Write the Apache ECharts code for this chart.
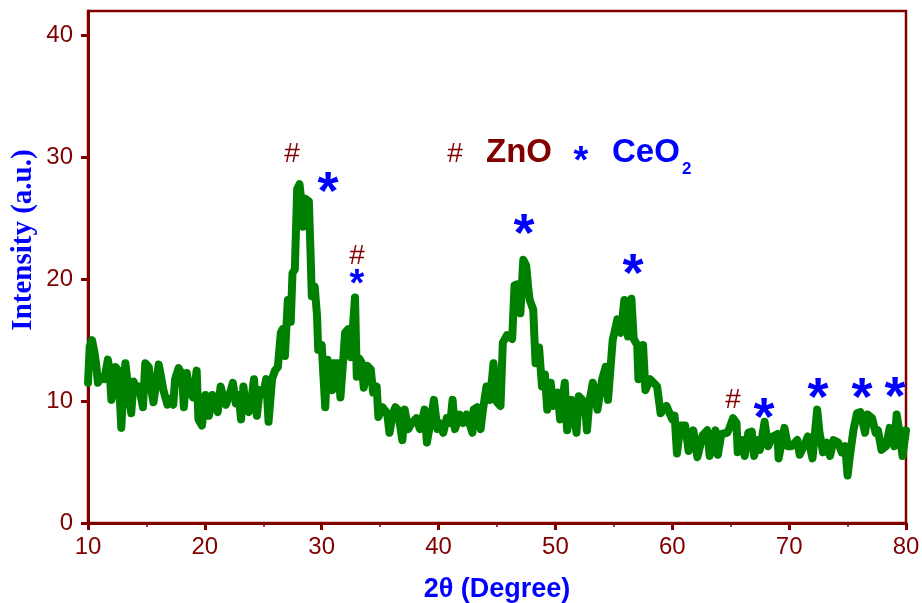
<!DOCTYPE html>
<html>
<head>
<meta charset="utf-8">
<script src="https://cdn.jsdelivr.net/npm/echarts@6/dist/echarts.min.js"></script>
<style>html,body{margin:0;padding:0;background:#fff}#c{width:922px;height:603px}</style>
</head>
<body>
<div id="c"></div>
<script>
var twoTheta = [10.0,10.15,10.35,10.55,10.7,10.85,11.1,11.4,11.7,11.85,12.0,12.2,12.35,12.6,12.85,13.05,13.2,13.45,13.7,13.9,14.1,14.3,14.5,14.7,14.9,15.2,15.4,15.6,15.8,16.05,16.25,16.45,16.8,17.1,17.3,17.45,17.75,18.05,18.2,18.45,18.65,19.0,19.3,19.45,19.75,20.05,20.35,20.65,20.9,21.1,21.35,21.6,21.8,22.1,22.4,22.65,22.9,23.1,23.3,23.5,23.75,24.0,24.2,24.45,24.7,25.0,25.25,25.45,25.75,26.0,26.25,26.5,26.65,26.85,27.1,27.35,27.5,27.7,27.9,28.1,28.3,28.4,28.6,28.9,29.05,29.15,29.4,29.6,29.7,30.0,30.15,30.3,30.5,30.75,30.9,31.0,31.4,31.6,31.85,32.0,32.25,32.5,32.7,32.85,33.0,33.2,33.4,33.6,33.9,34.2,34.4,34.7,34.85,35.2,35.6,35.8,36.1,36.3,36.5,36.9,37.1,37.4,37.7,38.1,38.4,38.8,39.0,39.3,39.6,39.9,40.1,40.4,40.7,41.0,41.2,41.4,41.8,42.1,42.4,42.9,43.0,43.3,43.6,43.8,44.1,44.4,44.7,45.0,45.3,45.5,45.85,46.3,46.5,46.8,47.0,47.25,47.5,47.7,47.8,48.1,48.3,48.6,48.85,49.1,49.3,49.6,49.8,50.2,50.4,50.8,51.0,51.4,51.8,52.0,52.5,52.7,52.9,53.2,53.6,54.0,54.3,54.5,54.9,55.3,55.6,55.9,56.2,56.5,56.7,57.0,57.1,57.5,57.7,58.1,58.4,58.7,59.0,59.5,60.0,60.2,60.4,60.7,61.1,61.4,61.8,62.15,62.6,63.0,63.2,63.7,63.9,64.2,64.7,64.9,65.2,65.5,65.6,66.0,66.2,66.5,66.8,67.0,67.3,67.5,67.9,68.2,68.6,69.0,69.1,69.6,69.9,70.2,70.7,70.9,71.4,71.6,72.0,72.4,72.6,72.9,73.2,73.5,73.8,74.2,74.5,74.8,75.0,75.2,75.5,75.8,76.1,76.5,76.7,77.1,77.4,77.6,77.9,78.3,78.6,79.0,79.2,79.5,79.7,80.0];
var intensity = [11.5,14.5,15.0,14.0,13.0,11.5,12.0,11.8,13.4,12.5,10.1,11.0,12.8,12.5,7.8,11.5,13.1,11.0,9.0,11.6,11.0,11.2,10.5,9.5,13.1,12.8,11.0,9.9,11.2,13.0,12.0,10.9,9.7,10.2,9.7,11.8,12.7,12.2,9.5,12.3,11.0,10.3,12.5,8.5,8.0,10.5,8.8,10.5,9.8,9.1,11.2,10.2,9.7,10.5,11.5,9.8,10.5,8.5,11.2,9.4,9.1,10.2,11.8,8.8,10.9,10.6,11.8,8.3,11.8,12.5,12.8,15.6,15.9,13.7,18.3,16.5,20.5,20.8,27.4,27.8,26.0,24.3,26.6,26.4,22.0,18.6,19.4,17.0,14.2,14.6,12.0,9.5,13.4,11.5,10.9,13.1,13.1,10.3,13.5,15.6,15.9,13.6,16.5,18.5,12.0,13.5,13.2,11.1,12.9,12.6,10.7,11.2,8.7,9.5,9.0,7.4,9.0,9.5,9.3,6.8,9.3,7.7,8.2,8.6,7.7,9.3,6.6,8.2,10.1,7.7,8.2,7.4,8.6,8.2,10.1,7.7,8.9,8.2,8.9,7.4,9.3,9.5,7.7,9.3,11.2,10.1,13.1,9.9,9.6,14.8,15.4,15.1,19.5,19.6,17.2,21.6,21.1,19.0,18.3,17.5,13.1,14.4,11.2,12.2,9.3,11.5,9.6,10.7,8.5,11.5,7.6,10.1,7.4,10.4,9.9,7.6,9.9,11.5,9.3,11.8,12.8,10.1,15.0,16.7,15.6,18.3,15.3,18.4,15.1,14.6,11.8,14.6,10.9,11.8,11.5,11.2,9.0,9.6,8.5,8.8,5.7,8.0,8.0,5.9,7.6,5.4,7.2,7.6,5.5,7.6,5.6,7.3,7.4,7.8,8.6,8.2,5.8,6.8,5.5,7.4,7.5,5.5,6.8,6.0,8.3,6.3,7.1,7.3,5.3,7.8,6.3,6.3,6.8,5.6,6.6,7.1,5.3,9.3,7.4,5.8,6.6,5.5,6.8,6.6,5.8,6.3,3.9,5.5,7.6,9.0,9.1,7.4,8.9,8.6,7.4,7.6,6.0,6.3,7.8,6.3,8.9,7.1,5.5,7.6];
var yTicks = [0,10,20,30,40];

var RED = '#800000', BLUE = '#0000ff', GREEN = '#008000';
var chart = echarts.init(document.getElementById('c'));
var pts = twoTheta.map(function(x,i){return [x,intensity[i]];});

function t(x,y,s,font,fill){
  return {type:'text', x:x, y:y, silent:true,
    style:{text:s, font:font, fill:fill, textAlign:'center', textVerticalAlign:'middle'}};
}
var starBig = 'bold 54px "Liberation Sans"';
var starSmall = 'bold 38px "Liberation Sans"';
var hashF = '28px "Liberation Sans"';
var off = 13, offS = 9;

chart.setOption({
  animation:false,
  grid:{left:88,right:16,top:11,bottom:80,outerBoundsMode:'none',containLabel:false,show:true,borderColor:RED,borderWidth:2.5,backgroundColor:'transparent'},
  xAxis:{type:'value',min:10,max:80,interval:10,
    name:'2θ (Degree)',nameLocation:'middle',nameGap:53,
    nameTextStyle:{color:BLUE,fontWeight:'bold',fontSize:27,fontFamily:'Liberation Sans'},
    axisLine:{onZero:false,lineStyle:{color:RED,width:3}},
    axisTick:{inside:false,length:7,lineStyle:{color:RED,width:3}},
    minorTick:{show:true,splitNumber:2,length:4,lineStyle:{color:RED,width:1.5}},
    splitLine:{show:false},
    axisLabel:{color:RED,fontSize:24,fontFamily:'Liberation Sans',margin:12}},
  yAxis:{type:'value',min:0,max:42,
    axisLine:{lineStyle:{color:RED,width:3}},
    axisTick:{length:7,lineStyle:{color:RED,width:3},customValues:yTicks},
    splitLine:{show:false},
    axisLabel:{color:RED,fontSize:24,fontFamily:'Liberation Sans',margin:15,customValues:yTicks}},
  series:[{type:'line',data:pts,showSymbol:false,
    lineStyle:{color:GREEN,width:8,cap:'round',join:'round'}}],
  graphic:[
    {type:'text',x:24,y:240,rotation:Math.PI/2,silent:true,
      style:{text:'Intensity (a.u.)',font:'bold 29px "Liberation Serif"',fill:BLUE,textAlign:'center',textVerticalAlign:'middle'}},
    t(292,154,'#',hashF,RED),
    t(328,181+off,'*',starBig,BLUE),
    t(357,256,'#',hashF,RED),
    t(357,277+offS,'*',starSmall,BLUE),
    t(524,223+off,'*',starBig,BLUE),
    t(633,263+off,'*',starBig,BLUE),
    t(733,400,'#',hashF,RED),
    t(764,407+off,'*',starBig,BLUE),
    t(818,387+off,'*',starBig,BLUE),
    t(862,387+off,'*',starBig,BLUE),
    t(895,386+off,'*',starBig,BLUE),
    t(455,154,'#',hashF,RED),
    {type:'text',x:486,y:153,silent:true,style:{text:'ZnO',font:'bold 33px "Liberation Sans"',fill:RED,textAlign:'left',textVerticalAlign:'middle'}},
    t(581,154+offS,'*',starSmall,BLUE),
    {type:'text',x:612,y:153,silent:true,style:{text:'CeO',font:'bold 33px "Liberation Sans"',fill:BLUE,textAlign:'left',textVerticalAlign:'middle'}},
    {type:'text',x:682,y:169,silent:true,style:{text:'2',font:'bold 17px "Liberation Sans"',fill:BLUE,textAlign:'left',textVerticalAlign:'middle'}}
  ]
});
</script>
</body>
</html>
